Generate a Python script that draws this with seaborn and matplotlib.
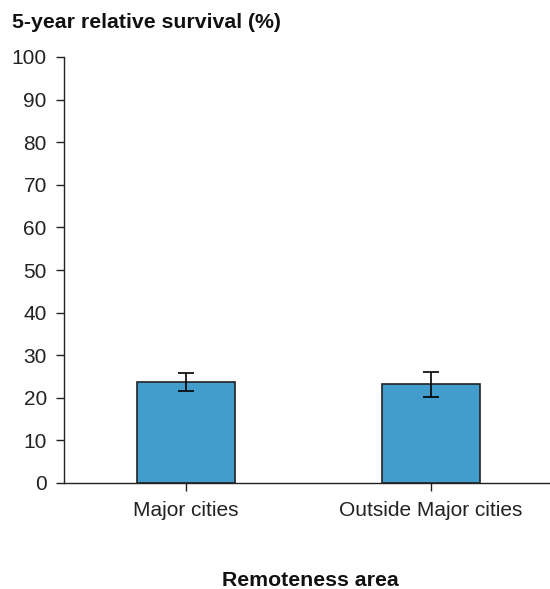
import matplotlib
matplotlib.use("Agg")
import matplotlib.pyplot as plt
import seaborn as sns
import pandas as pd
import numpy as np

categories = ["Major cities", "Outside Major cities"]
survival = [23.7, 23.2]
ci_low = [21.6, 20.1]
ci_high = [25.8, 26.1]

sns.set_style("white")
plt.rcParams['font.family'] = ['Liberation Sans', 'DejaVu Sans']

df = pd.DataFrame({"area": categories, "survival": survival})

fig = plt.figure(figsize=(5.5, 5.89), dpi=100)
ax = fig.add_axes([63.5/550, 1 - 483/589, 490/550, 426/589])

sns.barplot(data=df, x="area", y="survival", color="#429dcc", width=0.4,
            edgecolor="#222222", linewidth=1.2, saturation=1, errorbar=None, ax=ax)

xs = np.arange(len(categories))
yerr = [np.array(survival) - np.array(ci_low), np.array(ci_high) - np.array(survival)]
ax.errorbar(xs, survival, yerr=yerr, fmt="none", ecolor="black", elinewidth=1.2,
            capsize=6, capthick=1.2)

ax.set_xlim(-0.5, 1.5)
ax.set_ylim(0, 100)
ax.set_yticks(range(0, 101, 10))
ax.set_xlabel("")
ax.set_ylabel("")
for s in ["top", "right"]:
    ax.spines[s].set_visible(False)
for s in ["left", "bottom"]:
    ax.spines[s].set_color("#222222")
    ax.spines[s].set_linewidth(1.0)
ax.tick_params(axis="both", which="both", direction="out", length=6, width=1,
               color="#222222", labelsize=15, labelcolor="#222222", left=True, bottom=True)
ax.tick_params(axis="y", pad=6)
ax.tick_params(axis="x", pad=7)

fig.text(12/550, 1 - 23/589, "5-year relative survival (%)", fontsize=15.3,
         fontweight="bold", va="center", ha="left", color="#111111")
fig.text(310/550, 1 - 580/589, "Remoteness area", fontsize=15.3,
         fontweight="bold", va="center", ha="center", color="#111111")

fig.savefig("out.png", dpi=100)
